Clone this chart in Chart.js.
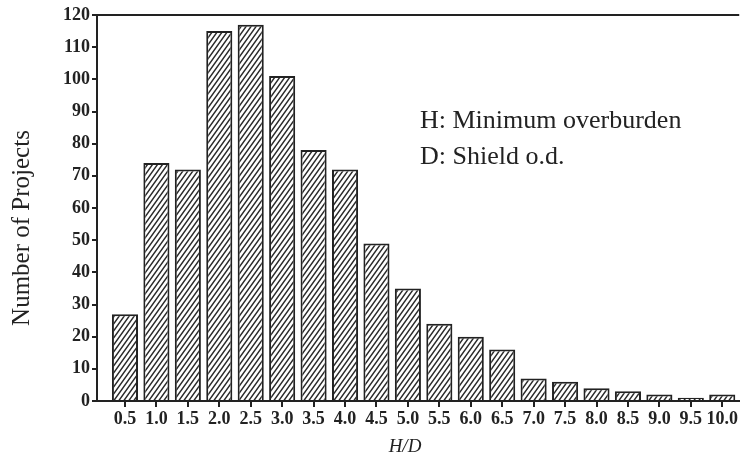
<!DOCTYPE html>
<html>
<head>
<meta charset="utf-8">
<script src="https://cdn.jsdelivr.net/npm/chart.js@4/dist/chart.umd.min.js"></script>
<style>
html, body { margin: 0; padding: 0; background: #fff; }
</style>
</head>
<body>
<canvas id="myChart" width="740" height="461"></canvas>
<script>
// H/D classes and number of projects
const hdValues = [0.5, 1.0, 1.5, 2.0, 2.5, 3.0, 3.5, 4.0, 4.5, 5.0,
                  5.5, 6.0, 6.5, 7.0, 7.5, 8.0, 8.5, 9.0, 9.5, 10.0];
const projectCounts = [27, 74, 72, 115, 117, 101, 78, 72, 49, 35,
                       24, 20, 16, 7, 6, 4, 3, 2, 1, 2];
const notes = ['H: Minimum overburden', 'D: Shield o.d.'];

const ink = '#222';
const serif = '"Liberation Serif", "DejaVu Serif", serif';

// steep hatch pattern for the bars
const makeHatch = () => {
    const w = 5, h = 7;
    const c = document.createElement('canvas');
    c.width = w;
    c.height = h;
    const g = c.getContext('2d');
    g.fillStyle = '#fff';
    g.fillRect(0, 0, w, h);
    g.strokeStyle = '#2a2a2a';
    g.lineWidth = 1.5;
    g.beginPath();
    [-w, 0, w].forEach(dx => {
        g.moveTo(dx - w, 2 * h);
        g.lineTo(dx + 2 * w, -h);
    });
    g.stroke();
    return g.createPattern(c, 'repeat');
};

const extras = {
    id: 'extras',
    afterDraw(chart) {
        const ctx = chart.ctx;
        const a = chart.chartArea;
        ctx.save();
        // top frame line
        ctx.strokeStyle = ink;
        ctx.lineWidth = 2;
        ctx.beginPath();
        ctx.moveTo(a.left - 1, a.top);
        ctx.lineTo(a.right, a.top);
        ctx.stroke();
        // notes
        ctx.fillStyle = ink;
        ctx.textAlign = 'left';
        ctx.textBaseline = 'alphabetic';
        ctx.font = '26px ' + serif;
        ctx.fillText(notes[0], 420, 128);
        ctx.fillText(notes[1], 420, 164);
        // x title
        ctx.font = 'italic 19px ' + serif;
        ctx.textAlign = 'center';
        ctx.fillText('H/D', 405, 452);
        // y title
        ctx.translate(22, 228);
        ctx.rotate(-Math.PI / 2);
        ctx.textBaseline = 'middle';
        ctx.font = '25px ' + serif;
        ctx.fillText('Number of Projects', 0, 0);
        ctx.restore();
    }
};

const data = {
    datasets: [{
        label: 'Projects',
        data: hdValues.map((v, i) => ({ x: v, y: projectCounts[i] })),
        backgroundColor: makeHatch(),
        borderColor: ink,
        borderWidth: 2,
        borderSkipped: 'bottom',
        barPercentage: 0.83,
        categoryPercentage: 1
    }]
};

const config = {
    type: 'bar',
    data: data,
    options: {
        responsive: false,
        animation: false,
        devicePixelRatio: 1,
        layout: {
            padding: { top: 15, right: 0, bottom: 0, left: 0 }
        },
        plugins: {
            legend: { display: false },
            tooltip: { enabled: false }
        },
        scales: {
            x: {
                type: 'linear',
                offset: false,
                min: 0.055,
                max: 10.27,
                afterBuildTicks: (s) => { s.ticks = hdValues.map(v => ({ value: v })); },
                afterFit: (s) => { s.height = 60; },
                ticks: {
                    autoSkip: false,
                    maxRotation: 0,
                    padding: 2,
                    color: ink,
                    font: { family: serif, size: 18, weight: 'bold' },
                    callback: (v) => Number(v).toFixed(1)
                },
                grid: {
                    offset: false,
                    drawOnChartArea: false,
                    drawTicks: true,
                    tickLength: 6,
                    color: ink,
                    lineWidth: 2
                },
                border: { color: ink, width: 2 }
            },
            y: {
                min: 0,
                max: 120,
                afterFit: (s) => { s.width = 97; },
                ticks: {
                    stepSize: 10,
                    padding: 2,
                    color: ink,
                    font: { family: serif, size: 18, weight: 'bold' }
                },
                grid: {
                    drawOnChartArea: false,
                    drawTicks: true,
                    tickLength: 5,
                    color: ink,
                    lineWidth: 2
                },
                border: { color: ink, width: 2 }
            }
        }
    },
    plugins: [extras]
};

const myChart = new Chart(
    document.getElementById('myChart'),
    config
);
</script>
</body>
</html>
